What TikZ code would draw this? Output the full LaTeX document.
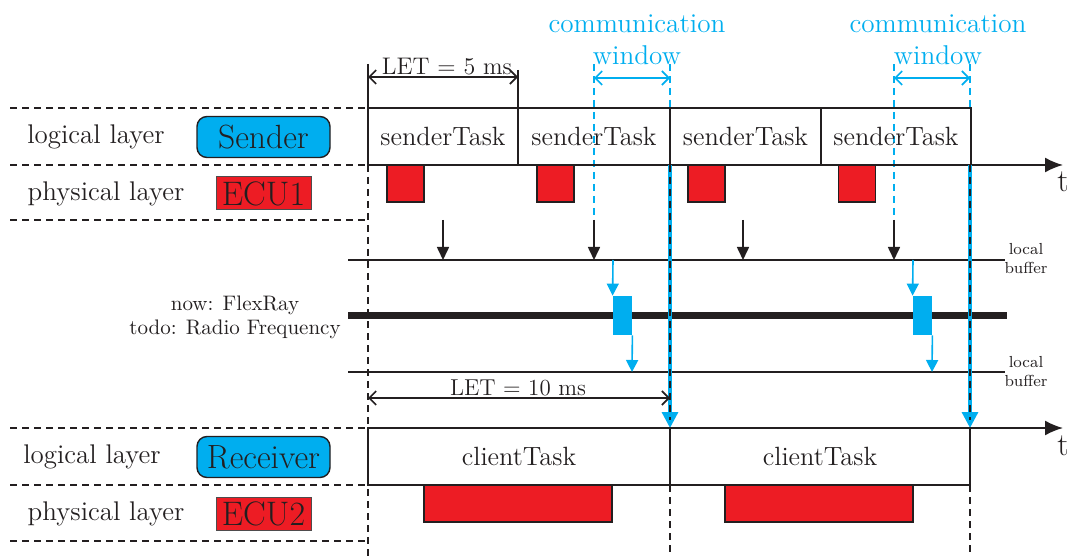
\documentclass[tikz,border=0pt]{standalone}
\usetikzlibrary{arrows.meta}
\definecolor{cyanb}{RGB}{0,174,239}
\definecolor{redb}{RGB}{237,28,36}
\definecolor{inkb}{RGB}{35,31,32}
\begin{document}
\begin{tikzpicture}[x=0.5pt,y=-0.5pt,
  every node/.style={text=inkb},
  fs/.style={font=\fontsize{#1}{#1}\selectfont},
  taskbox/.style={draw=inkb,line width=1.1pt,minimum height=28.5pt,inner sep=0pt,fs=13.2},
  redbox/.style={draw=inkb,fill=redb,line width=0.9pt,inner sep=0pt},
  pill/.style={draw=inkb,fill=cyanb,rounded corners=5pt,line width=0.7pt,minimum width=66.5pt,minimum height=20.5pt,inner sep=0pt,fs=16.8},
  ecu/.style={draw=inkb!80,fill=redb,line width=0.5pt,minimum width=47.5pt,minimum height=16.5pt,inner sep=0pt,fs=17},
  dsh/.style={draw=inkb,line width=0.7pt,dash pattern=on 3.5pt off 2.5pt},
  bdsh/.style={draw=cyanb,line width=0.8pt,dash pattern=on 3.5pt off 2.5pt},
  axis/.style={draw=inkb,line width=0.9pt,-{Latex[length=9pt,width=7.5pt]}},
  buf/.style={draw=inkb,line width=0.6pt},
  barr/.style={draw=inkb,line width=0.8pt,-{Triangle[length=6.5pt,width=6pt]}},
  carr/.style={draw=cyanb,line width=0.8pt,-{Triangle[length=6pt,width=6pt]}},
  bigarr/.style={draw=cyanb,line width=1.6pt,-{Triangle[length=8pt,width=8pt]}},
  letarr/.style={draw=inkb,line width=0.8pt,{Straight Barb[length=3.5pt,width=7pt]}-{Straight Barb[length=3.5pt,width=7pt]}},
  winarr/.style={draw=cyanb,line width=0.8pt,{Straight Barb[length=3.5pt,width=7pt]}-{Straight Barb[length=3.5pt,width=7pt]}},
]
\useasboundingbox (0,0) rectangle (1067,556);

% coordinates
\coordinate (L1) at (10,108); \coordinate (L1e) at (368,108);
\coordinate (L2) at (10,165); \coordinate (A0) at (368,165); \coordinate (A1) at (1063,165);
\coordinate (L3) at (10,220); \coordinate (L3e) at (368,220);
\coordinate (L4) at (10,428); \coordinate (B0) at (368,428); \coordinate (B1) at (1063,428);
\coordinate (L5) at (10,485); \coordinate (L5e) at (368,485);
\coordinate (L6) at (10,541); \coordinate (L6e) at (368,541);

% vertical guides
\draw[dsh] (368,165) coordinate (v0a) -- (368,556) coordinate (v0b);
\draw[dsh] (670,485) coordinate (v1a) -- (670,556) coordinate (v1b);
\draw[dsh] (970,485) coordinate (v2a) -- (970,556) coordinate (v2b);
\draw[inkb,line width=0.8pt] (368,64) coordinate (t0a) -- (368,108) coordinate (t0b);
\draw[inkb,line width=0.8pt] (518,70) coordinate (t1a) -- (518,108) coordinate (t1b);

% left dashed separators
\draw[dsh] (L1) -- (L1e);
\draw[dsh] (L2) -- (A0);
\draw[dsh] (L3) -- (L3e);
\draw[dsh] (L4) -- (B0);
\draw[dsh] (L5) -- (L5e);
\draw[dsh] (L6) -- (L6e);

% communication window guides
\draw[bdsh] (594,64) coordinate (w1a) -- (594,220) coordinate (w1b);
\draw[bdsh] (670,64) coordinate (w2a) -- (670,108) coordinate (w2b);
\draw[bdsh] (894,64) coordinate (w3a) -- (894,220) coordinate (w3b);
\draw[bdsh] (970,64) coordinate (w4a) -- (970,108) coordinate (w4b);

% buffers and bus
\draw[buf] (348,260) coordinate (b1a) -- (1005,260) coordinate (b1b);
\draw[buf] (348,372) coordinate (b2a) -- (1005,372) coordinate (b2b);
\draw[inkb,line width=3.5pt] (348,315) coordinate (busa) -- (1007,315) coordinate (busb);
\node[fs=8,align=center,inner sep=0pt] (lb1) at (1026,259) {local\\[1.5pt]buffer};
\node[fs=8,align=center,inner sep=0pt] (lb2) at (1026,372) {local\\[1.5pt]buffer};
\node[fs=10.5,align=center,inner sep=0pt] (bus) at (235,317) {now: FlexRay\\[1.5pt]todo: Radio Frequency};

% sender tasks
\node[taskbox,minimum width=75pt] (s1) at (443,136.5) {senderTask};
\node[taskbox,minimum width=76pt] (s2) at (594,136.5) {senderTask};
\node[taskbox,minimum width=75.5pt] (s3) at (745.5,136.5) {senderTask};
\node[taskbox,minimum width=75pt] (s4) at (896,136.5) {senderTask};
\draw[axis] (A0) -- (A1);
\node[fs=16,inner sep=0pt] (tt1) at (1063,182) {t};

% sender execution
\node[redbox,minimum width=18.5pt,minimum height=18.5pt] (e1) at (405.5,183.5) {};
\node[redbox,minimum width=18.5pt,minimum height=18.5pt] (e2) at (555.5,183.5) {};
\node[redbox,minimum width=18.5pt,minimum height=18.5pt] (e3) at (706.5,183.5) {};
\node[redbox,minimum width=18.5pt,minimum height=18.5pt] (e4) at (857,183.5) {};

% writes into local buffer
\coordinate (d1a) at (443,220); \coordinate (d1b) at (443,260);
\coordinate (d2a) at (594,220); \coordinate (d2b) at (594,260);
\coordinate (d3a) at (743,220); \coordinate (d3b) at (743,260);
\coordinate (d4a) at (894,220); \coordinate (d4b) at (894,260);
\draw[barr] (d1a) -- (d1b);
\draw[barr] (d2a) -- (d2b);
\draw[barr] (d3a) -- (d3b);
\draw[barr] (d4a) -- (d4b);

% bus transfers
\node[fill=cyanb,minimum width=9.5pt,minimum height=19.5pt,inner sep=0pt] (m1) at (622.5,315.5) {};
\node[fill=cyanb,minimum width=9.5pt,minimum height=19.5pt,inner sep=0pt] (m2) at (922.5,315.5) {};
\coordinate (m1i) at (613,260); \coordinate (m1o) at (632,372);
\coordinate (m2i) at (913,260); \coordinate (m2o) at (932,372);
\draw[carr] (m1i) -- (m1.north west);
\draw[carr] (m1.south east) -- (m1o);
\draw[carr] (m2i) -- (m2.north west);
\draw[carr] (m2.south east) -- (m2o);

% big release arrows
\coordinate (r1a) at (670,165); \coordinate (r1b) at (670,428);
\coordinate (r2a) at (970,165); \coordinate (r2b) at (970,428);
\draw[bigarr] (r1a) -- (r1b);
\draw[bigarr] (r2a) -- (r2b);
\draw[dsh] (r1a) -- (670,420);
\draw[dsh] (r2a) -- (970,420);

% receiver tasks
\node[taskbox,minimum width=151pt] (c1) at (519,456.5) {clientTask};
\node[taskbox,minimum width=150pt] (c2) at (820,456.5) {clientTask};
\draw[axis] (B0) -- (B1);
\node[fs=16,inner sep=0pt] (tt2) at (1063,446) {t};
\node[redbox,minimum width=94pt,minimum height=18.5pt] (f1) at (518,503.5) {};
\node[redbox,minimum width=94pt,minimum height=18.5pt] (f2) at (819,503.5) {};

% LET arrows
\draw[letarr] (t0a |- 0,77) coordinate (let1a) -- (t1a |- 0,77) coordinate (let1b);
\node[fs=12,inner sep=0pt,anchor=south] (let1) at (447,75) {LET = 5 ms};
\coordinate (let2a) at (368,398); \coordinate (let2b) at (670,398);
\draw[letarr] (let2a) -- (let2b);
\node[fs=11.5,inner sep=0pt,anchor=south] (let2) at (518,396) {LET = 10 ms};

% communication window labels
\coordinate (cw1a) at (594,78); \coordinate (cw1b) at (670,78);
\coordinate (cw2a) at (894,78); \coordinate (cw2b) at (970,78);
\draw[winarr] (cw1a) -- (cw1b);
\draw[winarr] (cw2a) -- (cw2b);
\node[fs=13.6,text=cyanb,align=center,inner sep=0pt] (cwl1) at (637,40) {communication\\[2.5pt]window};
\node[fs=13.6,text=cyanb,align=center,inner sep=0pt] (cwl2) at (938,40) {communication\\[2.5pt]window};

% left labels
\node[fs=13.5,inner sep=0pt] (ll1) at (96,137) {logical layer};
\node[pill] (snd) at (263.5,137) {Sender};
\node[fs=13.5,inner sep=0pt] (pl1) at (106,194) {physical layer};
\node[ecu] (ecu1) at (263.5,193.5) {ECU1};
\node[fs=13.5,inner sep=0pt] (ll2) at (92,457) {logical layer};
\node[pill] (rcv) at (263.5,457) {Receiver};
\node[fs=13.5,inner sep=0pt] (pl2) at (106,514) {physical layer};
\node[ecu] (ecu2) at (263.5,513.5) {ECU2};
\end{tikzpicture}
\end{document}
